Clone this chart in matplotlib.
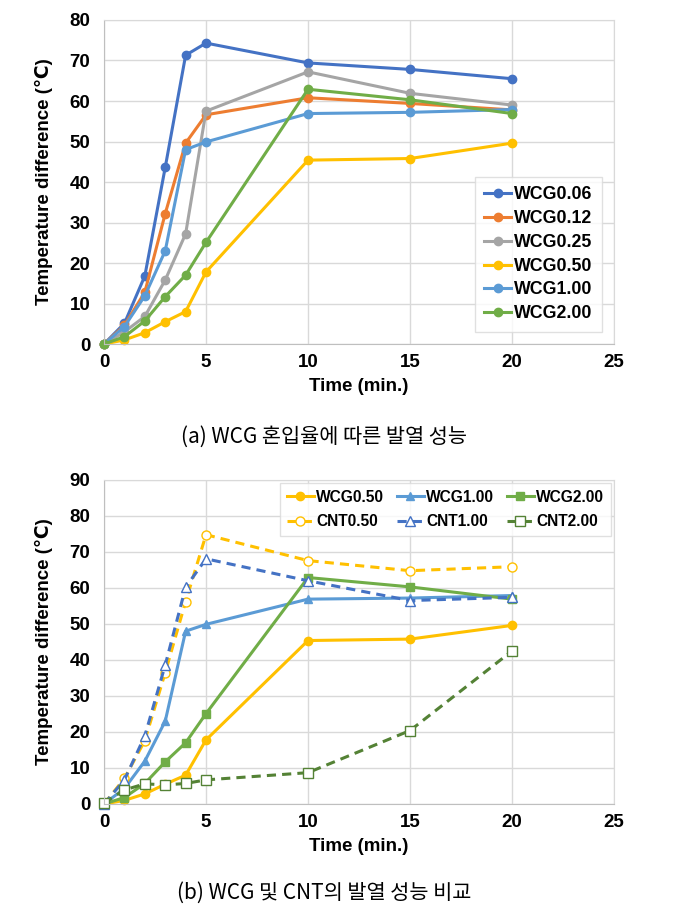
import matplotlib
matplotlib.use("Agg")
import matplotlib.pyplot as plt

plt.rcParams['font.family'] = ['Liberation Sans', 'DejaVu Sans']

time = [0, 1, 2, 3, 4, 5, 10, 15, 20]

# (a) WCG mixing ratio
wcg006 = [0, 5.1, 16.8, 43.6, 71.3, 74.3, 69.4, 67.8, 65.5]
wcg012 = [0, 4.6, 12.8, 32.2, 49.6, 56.6, 60.8, 59.4, 57.8]
wcg025 = [0, 3.0, 6.8, 15.8, 27.2, 57.5, 67.2, 61.9, 59.0]
wcg050 = [0, 1.0, 2.8, 5.5, 8.0, 17.8, 45.4, 45.8, 49.6]
wcg100 = [0, 4.3, 11.9, 23.0, 48.0, 49.9, 56.9, 57.2, 57.9]
wcg200 = [0, 1.8, 5.7, 11.7, 17.0, 25.1, 62.9, 60.3, 56.9]

# (b) CNT comparison
cnt050 = [0, 7.1, 17.6, 36.5, 56.2, 74.8, 67.6, 64.8, 65.9]
cnt100 = [0, 6.7, 18.9, 38.6, 60.2, 68.1, 62.0, 56.5, 57.4]
cnt200 = [0.3, 3.9, 5.6, 5.3, 5.7, 6.7, 8.7, 20.4, 42.5]

BLUE = '#4472C4'
ORANGE = '#ED7D31'
GRAY = '#A5A5A5'
YELLOW = '#FFC000'
LBLUE = '#5B9BD5'
GREEN = '#70AD47'
DGREEN = '#548235'

fig = plt.figure(figsize=(6.79, 9.13), dpi=100)
ax1 = fig.add_axes([0.1532, 0.6232, 0.7511, 0.3549])
ax2 = fig.add_axes([0.1532, 0.1194, 0.7511, 0.3549])


def style_axes(ax, ymax):
    ax.set_xlim(0, 25)
    ax.set_ylim(0, ymax)
    ax.set_xticks(range(0, 26, 5))
    ax.set_yticks(range(0, ymax + 1, 10))
    ax.grid(True, color='#d9d9d9', linewidth=1)
    ax.set_axisbelow(True)
    for s in ax.spines.values():
        s.set_color('#d9d9d9')
    ax.spines['bottom'].set_color('#bfbfbf')
    ax.spines['left'].set_color('#bfbfbf')
    ax.tick_params(axis='x', length=0, labelsize=13.5, pad=7)
    ax.tick_params(axis='y', length=0, labelsize=13.5, pad=10)
    for lab in ax.get_xticklabels() + ax.get_yticklabels():
        lab.set_fontweight('bold')
    ax.set_xlabel('Time (min.)', fontsize=13.5, fontweight='bold', labelpad=5)
    ax.set_ylabel('Temperature difference (℃)', fontsize=13.5, fontweight='bold', labelpad=12)


kw = dict(linewidth=2.2, marker='o', markersize=6, clip_on=False)
ax1.plot(time, wcg006, color=BLUE, label='WCG0.06', **kw)
ax1.plot(time, wcg012, color=ORANGE, label='WCG0.12', **kw)
ax1.plot(time, wcg025, color=GRAY, label='WCG0.25', **kw)
ax1.plot(time, wcg050, color=YELLOW, label='WCG0.50', **kw)
ax1.plot(time, wcg100, color=LBLUE, label='WCG1.00', **kw)
ax1.plot(time, wcg200, color=GREEN, label='WCG2.00', **kw)
style_axes(ax1, 80)
leg1 = ax1.legend(loc='lower right', bbox_to_anchor=(0.976, 0.037), borderaxespad=0,
                  fancybox=False, edgecolor='#d9d9d9', prop={'weight': 'bold', 'size': 12.8},
                  handlelength=1.5, handletextpad=0.15, labelspacing=0.38, borderpad=0.55)
leg1.get_frame().set_linewidth(1)

dash = (0, (3, 2))
l1, = ax2.plot(time, wcg050, color=YELLOW, linewidth=2.2, marker='o', markersize=6,
               clip_on=False, label='WCG0.50')
l2, = ax2.plot(time, wcg100, color=LBLUE, linewidth=2.2, marker='^', markersize=6,
               clip_on=False, label='WCG1.00')
l3, = ax2.plot(time, wcg200, color=GREEN, linewidth=2.2, marker='s', markersize=6,
               clip_on=False, label='WCG2.00')
l4, = ax2.plot(time, cnt050, color=YELLOW, linewidth=2.2, linestyle=dash, marker='o', markersize=6.5,
               markerfacecolor='white', markeredgewidth=1, clip_on=False, label='CNT0.50')
l5, = ax2.plot(time, cnt100, color=BLUE, linewidth=2.2, linestyle=dash, marker='^', markersize=6.5,
               markerfacecolor='white', markeredgewidth=1, clip_on=False, label='CNT1.00')
l6, = ax2.plot(time, cnt200, color=DGREEN, linewidth=2.2, linestyle=dash, marker='s', markersize=6.5,
               markerfacecolor='white', markeredgewidth=1, clip_on=False, label='CNT2.00')
style_axes(ax2, 90)
handles = [l1, l4, l2, l5, l3, l6]
leg2 = ax2.legend(handles, [h.get_label() for h in handles], loc='upper right',
                  bbox_to_anchor=(0.994, 0.991), borderaxespad=0, ncol=3, fancybox=False,
                  edgecolor='#d9d9d9', prop={'weight': 'bold', 'size': 11.2},
                  handlelength=1.7, handletextpad=0.15, columnspacing=0.85, labelspacing=0.6,
                  borderpad=0.45)
leg2.get_frame().set_linewidth(1)

cap_font = ['Noto Sans CJK KR', 'DejaVu Sans']
fig.text(0.477, 1 - 437 / 913, '(a) WCG 혼입율에 따른 발열 성능', ha='center', va='center',
         fontsize=15, family=cap_font)
fig.text(0.477, 1 - 893 / 913, '(b) WCG 및 CNT의 발열 성능 비교', ha='center', va='center',
         fontsize=15, family=cap_font)

fig.savefig('out.png', dpi=100)
